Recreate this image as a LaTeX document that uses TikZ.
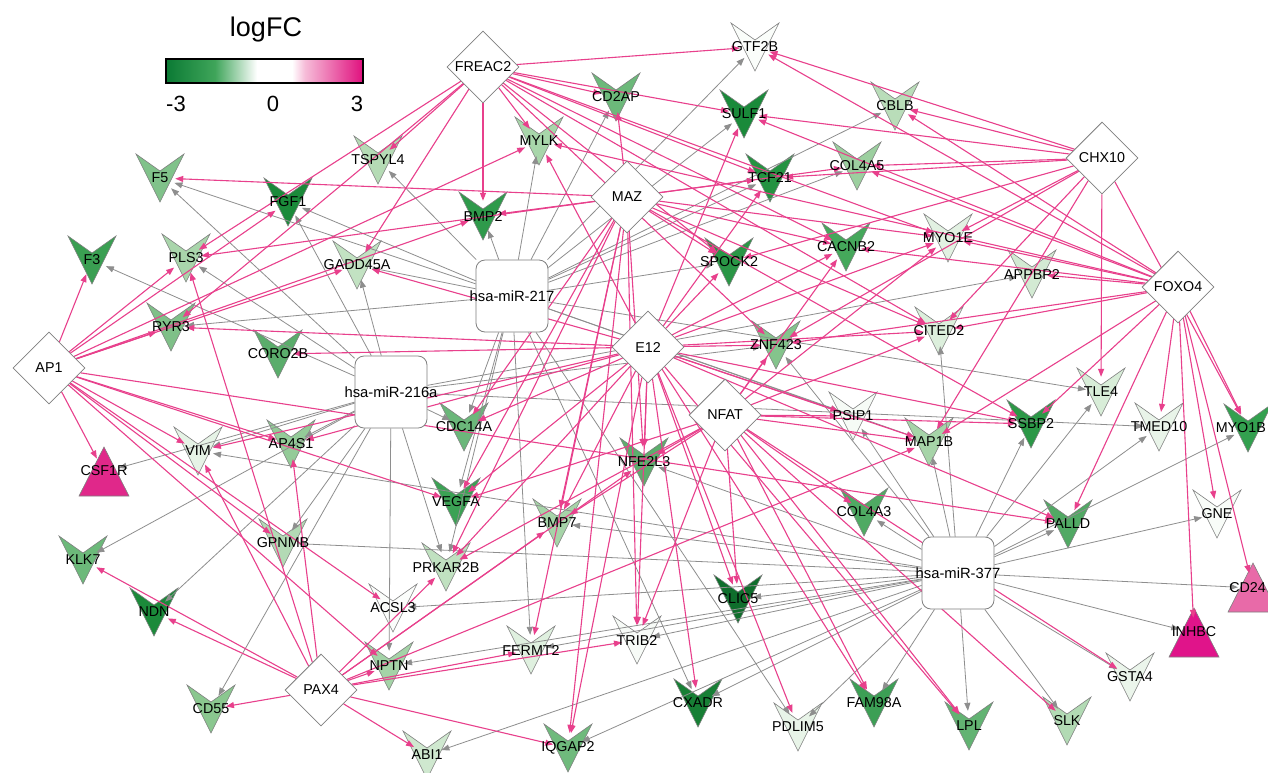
\documentclass[tikz,border=0pt]{standalone}
\usepackage{fontspec}
\setmainfont{Liberation Sans}
\usetikzlibrary{arrows.meta,shapes.geometric}
\pgfdeclarelayer{background}
\pgfdeclarelayer{foreground}
\pgfsetlayers{background,main,foreground}
\definecolor{pinkE}{HTML}{E8408C}
\definecolor{grayE}{HTML}{8E8E8E}
\definecolor{nodeline}{HTML}{7F7F7F}
\definecolor{lgDark}{HTML}{0B7A34}
\definecolor{lgMid}{HTML}{3FA55A}
\definecolor{lgMag}{HTML}{E0107E}
\definecolor{lgPink}{HTML}{F6BCD8}
\tikzset{
 hub/.style={circle, minimum size=30pt, inner sep=0pt, draw=none},
 tf/.style={diamond, aspect=1, minimum width=72pt, minimum height=72pt, inner sep=0pt, draw=nodeline, fill=white, line width=0.8pt, font=\fontsize{14.3}{14}\selectfont},
 mir/.style={rectangle, rounded corners=9pt, minimum width=72pt, minimum height=72pt, inner sep=0pt, draw=nodeline, fill=white, line width=0.8pt},
 lab/.style={inner sep=0pt, font=\fontsize{14.3}{14}\selectfont},
 vsh/.style={draw=nodeline, line width=0.6pt, line join=miter},
 pe/.style={draw=pinkE, line width=1.1pt, -{Triangle[length=8pt,width=6pt]}},
 ge/.style={draw=grayE, line width=0.8pt, -{Triangle[length=8pt,width=6pt]}},
}
\newcommand{\gV}[6][center]{%
 \definecolor{c#2}{HTML}{#5}%
 \node[hub] (#2) at (#3,#4) {};
 \begin{pgfonlayer}{background}
 \filldraw[vsh, fill=c#2] (#3-24,#4-24) -- (#3,#4-7) -- (#3+24,#4-24) -- (#3,#4+24) -- cycle;
 \end{pgfonlayer}
 \begin{pgfonlayer}{foreground}
 \node[lab, anchor=#1] (#2-l) at (#3,#4) {#6};
 \end{pgfonlayer}}
\newcommand{\gT}[6][center]{%
 \definecolor{c#2}{HTML}{#5}%
 \node[hub] (#2) at (#3,#4) {};
 \begin{pgfonlayer}{background}
 \filldraw[vsh, fill=c#2] (#3,#4-25) -- (#3+25,#4+24) -- (#3-25,#4+24) -- cycle;
 \end{pgfonlayer}
 \begin{pgfonlayer}{foreground}
 \node[lab, anchor=#1] (#2-l) at (#3,#4-1) {#6};
 \end{pgfonlayer}}
\begin{document}
\begin{tikzpicture}[x=1pt,y=-1pt]
\useasboundingbox (0,0) rectangle (1268,772);
\begin{pgfonlayer}{background}
\fill[white] (0,0) rectangle (1268,772);
\end{pgfonlayer}

% legend
\node[inner sep=0pt, font=\fontsize{27}{27}\selectfont] (legtitle) at (266,30) {logFC};
\shade[left color=lgDark, right color=lgMid] (166,59) rectangle (215,83);
\shade[left color=lgMid, right color=white] (215,59) rectangle (257,83);
\fill[white] (257,59) rectangle (292,83);
\shade[left color=white, right color=lgPink] (292,59) rectangle (305,83);
\shade[left color=lgPink, right color=lgMag] (305,59) rectangle (363,83);
\draw[line width=2pt] (166,59) rectangle (363,83);
\node[inner sep=0pt, font=\fontsize{22}{22}\selectfont] (tkA) at (176,104) {-3};
\node[inner sep=0pt, font=\fontsize{22}{22}\selectfont] (tkB) at (273,104) {0};
\node[inner sep=0pt, font=\fontsize{22}{22}\selectfont] (tkC) at (357,104) {3};

% target genes
\gV{GTF2B}{755}{47}{FAFDFA}{GTF2B}
\gV{CD2AP}{616}{97}{6CB97A}{CD2AP}
\gV{SULF1}{744}{114}{1A8A3A}{SULF1}
\gV{MYLK}{539}{141}{A8D6AA}{MYLK}
\gV{BMP2}{483}{216}{2F9A4B}{BMP2}
\gV{TCF21}{770}{178}{249341}{TCF21}
\gV{CBLB}{895}{106}{B9DDB9}{CBLB}
\gV{COL4A5}{857}{166}{9CCF9F}{COL4A5}
\gV{MYO1E}{948}{238}{E2F1E2}{MYO1E}
\gV{CACNB2}{846}{247}{45A85B}{CACNB2}
\gV{SPOCK2}{729}{262}{2A9646}{SPOCK2}
\gV{TSPYL4}{378}{160}{B5DBB5}{TSPYL4}
\gV{F5}{160}{178}{80C28A}{F5}
\gV{FGF1}{288}{202}{1B8A3A}{FGF1}
\gV{F3}{92}{260}{3A9F52}{F3}
\gV{PLS3}{186}{258}{A9D5AB}{PLS3}
\gV{GADD45A}{357}{265}{C2E2C2}{GADD45A}
\gV{RYR3}{171}{327}{7FC088}{RYR3}
\gV{CORO2B}{278}{354}{5AAD6B}{CORO2B}
\gV{VIM}{198}{451}{E6F3E6}{VIM}
\gV{AP4S1}{291}{444}{94CB98}{AP4S1}
\gV{CDC14A}{464}{427}{6BB77A}{CDC14A}
\gV{VEGFA}{456}{502}{3BA254}{VEGFA}
\gV{NFE2L3}{644}{462}{5CAE6C}{NFE2L3}
\gV{ZNF423}{776}{345}{84C48C}{ZNF423}
\gV{APPBP2}{1032}{274}{D3EAD3}{APPBP2}
\gV{CITED2}{939}{331}{DCEFDC}{CITED2}
\gV{TLE4}{1101}{392}{D8EDD8}{TLE4}
\gV{PSIP1}{853}{416}{F6FBF6}{PSIP1}
\gV{MAP1B}{929}{442}{A6D4A8}{MAP1B}
\gV{SSBP2}{1031}{424}{2C9847}{SSBP2}
\gV{TMED10}{1159}{427}{E9F4E9}{TMED10}
\gV{GNE}{1217}{514}{F8FCF8}{GNE}
\gV{GSTA4}{1130}{677}{EBF5EB}{GSTA4}
\gV{SLK}{1067}{721}{B2DAB4}{SLK}
\gV{LPL}{969}{726}{62B372}{LPL}
\gV{FAM98A}{874}{703}{3C9F55}{FAM98A}
\gV{PALLD}{1068}{524}{51A964}{PALLD}
\gV{COL4A3}{864}{512}{4FAA63}{COL4A3}
\gV{BMP7}{557}{523}{A6D4A8}{BMP7}
\gV{PRKAR2B}{446}{567}{C0E1C0}{PRKAR2B}
\gV{FERMT2}{531}{650}{DFF0DF}{FERMT2}
\gV{TRIB2}{637}{640}{F7FBF7}{TRIB2}
\gV{CLIC5}{738}{599}{0F6E2C}{CLIC5}
\gV{CXADR}{698}{703}{177F35}{CXADR}
\gV{PDLIM5}{798}{727}{E8F4E8}{PDLIM5}
\gV{IQGAP2}{568}{748}{6FBA7C}{IQGAP2}
\gV{ABI1}{427}{755}{CFE8CF}{ABI1}
\gV{GPNMB}{283}{543}{B3DAB5}{GPNMB}
\gV{KLK7}{83}{560}{6CB97A}{KLK7}
\gV{NDN}{154}{612}{1B8A3A}{NDN}
\gV{ACSL3}{393}{608}{FBFDFB}{ACSL3}
\gV{NPTN}{389}{666}{A4D3A7}{NPTN}
\gV{CD55}{211}{709}{8AC78F}{CD55}
\gT{CSF1R}{104}{472}{E0288A}{CSF1R}
\gT{INHBC}{1194}{633}{E0148A}{INHBC}
\node[coordinate] (rimA) at (1266,428) {};
\node[coordinate] (rimB) at (1266,588) {};
\gV{MYO1B}{1248}{428}{33A04F}{}
\gT{CD24}{1253}{588}{E86AA8}{}
\begin{pgfonlayer}{foreground}
\node[lab, anchor=east] (MYO1B-t) at (rimA) {MYO1B};
\node[lab, anchor=east] (CD24-t) at (rimB) {CD24};
\end{pgfonlayer}

% regulators
\begin{pgfonlayer}{foreground}
\node[tf] (FREAC2) at (483,67) {FREAC2};
\node[tf] (MAZ) at (627,197) {MAZ};
\node[tf] (CHX10) at (1102,158) {CHX10};
\node[tf] (FOXO4) at (1178,287) {FOXO4};
\node[tf] (AP1) at (49,368) {AP1};
\node[tf] (E12) at (648,347) {E12};
\node[tf] (NFAT) at (725,415) {NFAT};
\node[tf] (PAX4) at (321,690) {PAX4};
\node[mir] (m217) at (512,296) {};
\node[mir] (m216) at (391,392) {};
\node[mir] (m377) at (958,573) {};
\node[lab, font=\fontsize{14.8}{14}\selectfont] (m217-l) at (512,296) {hsa-miR-217};
\node[lab, font=\fontsize{14.8}{14}\selectfont] (m216-l) at (391,392) {hsa-miR-216a};
\node[lab, font=\fontsize{14.8}{14}\selectfont] (m377-l) at (958,573) {hsa-miR-377};
\end{pgfonlayer}

% miRNA edges
\foreach \t in {TSPYL4,F5,FGF1,MYLK,CD2AP,GTF2B,SULF1,TCF21,COL4A5,CBLB,BMP2,RYR3,CDC14A,PRKAR2B,FERMT2,CXADR,PDLIM5,TLE4,PSIP1,MAP1B,SPOCK2,VEGFA,GADD45A}
 {\draw[ge] (m217) -- (\t);}
\foreach \t in {F3,F5,FGF1,PLS3,GADD45A,CSF1R,VIM,AP4S1,KLK7,NDN,CD55,GPNMB,NPTN,PRKAR2B,CDC14A,APPBP2,TMED10,ZNF423}
 {\draw[ge] (m216) -- (\t);}
\foreach \t in {COL4A3,PALLD,GNE,CD24,INHBC,GSTA4,SLK,LPL,FAM98A,PDLIM5,CXADR,IQGAP2,ABI1,TRIB2,CLIC5,FERMT2,BMP7,ACSL3,NPTN,GPNMB,MAP1B,SSBP2,TLE4,TMED10,MYO1B,PSIP1,CITED2,VIM,NFE2L3,ZNF423}
 {\draw[ge] (m377) -- (\t);}

% TF edges
\foreach \t in {GTF2B,CD2AP,SULF1,MYLK,BMP2,TSPYL4,PLS3,GADD45A,CACNB2,MYO1E,ZNF423,TCF21,CITED2,SPOCK2,RYR3}
 {\draw[pe] (FREAC2) -- (\t);}
\foreach \t in {F5,PLS3,BMP2,CD2AP,TCF21,COL4A5,CACNB2,MYO1E,SSBP2,CITED2,VEGFA,CDC14A,BMP7,FERMT2,TRIB2,NFE2L3,PRKAR2B,IQGAP2,SPOCK2}
 {\draw[pe] (MAZ) -- (\t);}
\foreach \t in {GTF2B,CBLB,SULF1,COL4A5,TCF21,MYO1E,CITED2,ZNF423,MAP1B,TLE4,MYO1B,SPOCK2}
 {\draw[pe] (CHX10) -- (\t);}
\foreach \t in {GTF2B,CBLB,SULF1,COL4A5,MYLK,MYO1E,CACNB2,APPBP2,CITED2,ZNF423,SSBP2,MAP1B,TMED10,MYO1B,GNE,INHBC,CD24,PALLD}
 {\draw[pe] (FOXO4) -- (\t);}
\foreach \t in {F3,CSF1R,FGF1,PLS3,GADD45A,RYR3,BMP2,AP4S1,VEGFA,GPNMB,ACSL3,NPTN,PALLD,MYLK,VIM}
 {\draw[pe] (AP1) -- (\t);}
\foreach \t in {SPOCK2,ZNF423,TCF21,SULF1,MYLK,CACNB2,MYO1E,RYR3,CORO2B,GADD45A,VIM,AP4S1,CDC14A,VEGFA,BMP7,PRKAR2B,NFE2L3,TRIB2,CLIC5,CXADR,FAM98A,LPL,PDLIM5,IQGAP2,PSIP1,MAP1B,SSBP2,PALLD,CITED2}
 {\draw[pe] (E12) -- (\t);}
\foreach \t in {NFE2L3,ZNF423,MYO1E,CITED2,CACNB2,BMP7,TRIB2,CLIC5,FAM98A,LPL,SLK,GSTA4,COL4A3,MAP1B,PSIP1,SSBP2,VEGFA,PRKAR2B}
 {\draw[pe] (NFAT) -- (\t);}
\foreach \t in {KLK7,NDN,CD55,ABI1,IQGAP2,NPTN,PRKAR2B,BMP7,FERMT2,TRIB2,MAP1B,VIM,PLS3,AP4S1,NFE2L3}
 {\draw[pe] (PAX4) -- (\t);}
\end{tikzpicture}
\end{document}
